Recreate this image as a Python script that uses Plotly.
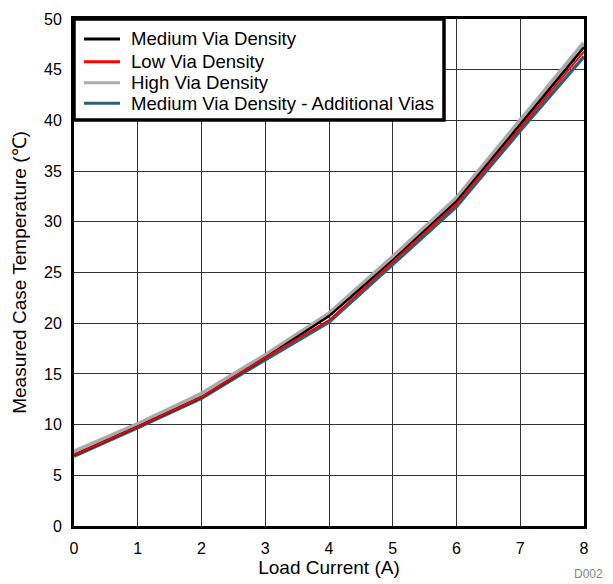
import plotly.graph_objects as go

load_current = [0, 1, 2, 3, 4, 5, 6, 7, 8]
medium = [7.0, 9.8, 12.7, 16.6, 20.7, 26.2, 32.0, 39.6, 47.2]
low = [7.0, 9.8, 12.7, 16.6, 20.3, 26.0, 31.8, 39.3, 46.8]
high = [7.3, 10.0, 13.0, 16.8, 20.9, 26.5, 32.3, 40.0, 47.6]
medium_add = [6.9, 9.7, 12.6, 16.4, 20.1, 25.8, 31.5, 39.0, 46.3]

series_names = ["Medium Via Density", "Low Via Density", "High Via Density",
                "Medium Via Density - Additional Vias"]
series_colors = ["#000000", "#ff0000", "#aaaaaa", "#2e5f7a"]

fig = go.Figure()
# drawing order: widest underneath
fig.add_trace(go.Scatter(x=load_current, y=high, mode="lines", name=series_names[2],
                         line=dict(color=series_colors[2], width=5)))
fig.add_trace(go.Scatter(x=load_current, y=medium_add, mode="lines", name=series_names[3],
                         line=dict(color=series_colors[3], width=3.5)))
fig.add_trace(go.Scatter(x=load_current, y=medium, mode="lines", name=series_names[0],
                         line=dict(color=series_colors[0], width=2.5)))
fig.add_trace(go.Scatter(x=load_current, y=low, mode="lines", name=series_names[1],
                         line=dict(color=series_colors[1], width=2)))

axis_common = dict(showgrid=True, gridcolor="#333333", gridwidth=1, showline=True, linecolor="black",
                   linewidth=3, mirror=True, ticks="", zeroline=False, automargin=False,
                   tickfont=dict(family="Liberation Sans, Arial", size=16, color="black"))

# the page is drawn with an 8px body offset, so the figure is 8px smaller and margins shifted
fig.update_layout(
    width=605, height=576,
    margin=dict(l=66, r=29, t=11, b=58),
    plot_bgcolor="white", paper_bgcolor="white",
    font=dict(family="Liberation Sans, Arial", size=16, color="black"),
    xaxis=dict(range=[0, 8], dtick=1, ticklabelstandoff=6,
               title=dict(text="Load Current (A)", standoff=2), **axis_common),
    yaxis=dict(range=[0, 50], dtick=5, ticklabelstandoff=6,
               title=dict(text="Measured Case Temperature (℃)", standoff=13), **axis_common),
    showlegend=False,
)

# legend box drawn in the upper-left corner of the plot
fig.add_shape(type="rect", xref="paper", yref="paper", x0=0, x1=0.7255, y0=0.8008, y1=1,
              line=dict(color="black", width=3.5), fillcolor="white", layer="above")
legend_y = [0.9606, 0.9158, 0.8744, 0.8337]
for name, color, ly in zip(series_names, series_colors, legend_y):
    fig.add_shape(type="line", xref="paper", yref="paper", x0=0.0196, x1=0.0902, y0=ly, y1=ly,
                  line=dict(color=color, width=3), layer="above")
    fig.add_annotation(text=name, xref="paper", yref="paper", x=0.1078, y=ly, xanchor="left",
                       yanchor="middle", showarrow=False, font=dict(size=18.6, color="black"))

fig.add_annotation(text="D002", xref="paper", yref="paper", x=1.041, y=-0.112, xanchor="right",
                   yanchor="bottom", showarrow=False, font=dict(size=12, color="#888888"))

fig.write_html("out.html")
